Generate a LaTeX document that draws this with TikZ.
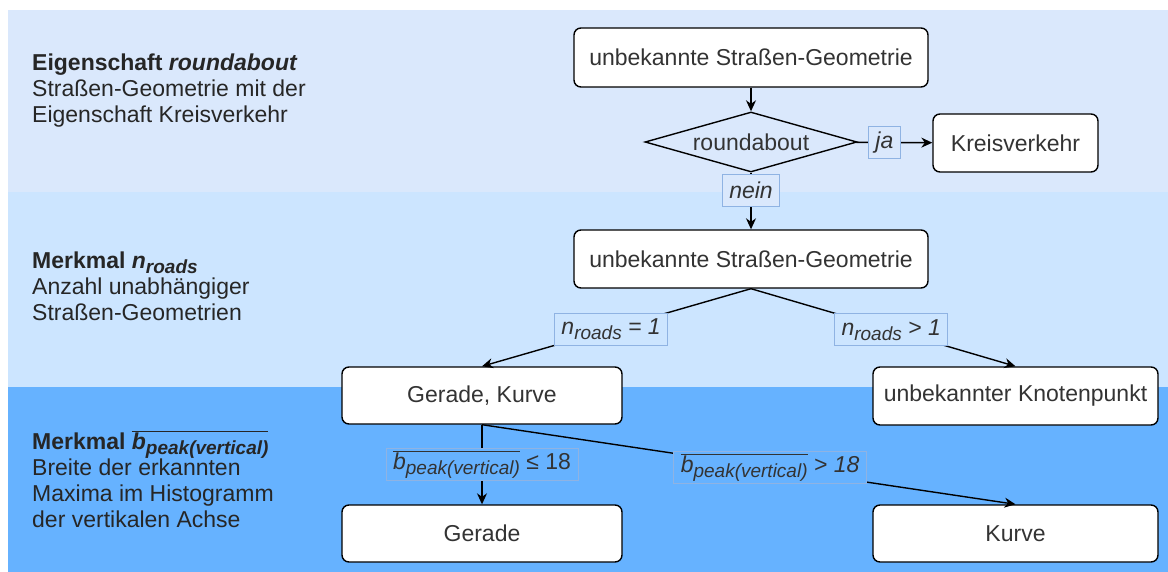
\documentclass[tikz,border=0pt]{standalone}
\usepackage{fontspec}
\setmainfont{Liberation Sans}
\usetikzlibrary{shapes.geometric,arrows.meta}

\definecolor{bandA}{HTML}{DAE8FC}
\definecolor{bandB}{HTML}{CCE5FF}
\definecolor{bandC}{HTML}{66B2FF}
\definecolor{txt}{HTML}{333333}
\definecolor{sidetxt}{HTML}{262626}
\definecolor{lblborder}{HTML}{8FB3E3}

% lowered, smaller text for subscripts
\newcommand\sbs[1]{\raisebox{-5pt}{\fontsize{19}{20}\selectfont #1}}
% overlined text
\newcommand\ovl[1]{$\overline{\hbox{#1}}$}

\tikzset{
  box/.style={draw=black, line width=1.4pt, fill=white, rounded corners=7pt,
    text=txt, font=\fontsize{23}{26}\selectfont, inner sep=0pt},
  rhomb/.style={diamond, draw=black, line width=1.4pt, text=txt,
    font=\fontsize{23}{26}\selectfont, shape aspect=3.53,
    minimum width=212pt, minimum height=60pt, inner sep=0pt},
  elabel/.style={draw=lblborder, line width=0.8pt, text=txt,
    font=\fontsize{23}{26}\selectfont\itshape, inner xsep=7pt, inner ysep=1pt,
    minimum height=32pt},
  conn/.style={draw=black, line width=1.4pt, -{Stealth[length=11pt,width=10pt]}},
  sidetext/.style={anchor=west, align=left, text=sidetxt,
    font=\fontsize{23}{26}\selectfont, inner sep=0pt}
}

\begin{document}
\begin{tikzpicture}[x=1pt,y=-1pt]
  \useasboundingbox (0,0) rectangle (1168,572);
  \fill[white] (0,0) rectangle (1168,572);

  % horizontal bands
  \fill[bandA] (8,10) rectangle (1168,192);
  \fill[bandB] (8,192) rectangle (1168,387);
  \fill[bandC] (8,387) rectangle (1168,572);

  % band descriptions
  \node[sidetext] (t1) at (32,91)
    {\textbf{Eigenschaft \textit{roundabout}}\\Straßen-Geometrie mit der\\Eigenschaft Kreisverkehr};
  \node[sidetext] (t2) at (32,286)
    {\textbf{Merkmal \textit{n}\sbs{\textit{roads}}}\\Anzahl unabhängiger\\Straßen-Geometrien};
  \node[sidetext] (t3) at (32,479)
    {\textbf{Merkmal \ovl{\textit{b}\sbs{\textit{peak(vertical)}}}}\\Breite der erkannten\\Maxima im Histogramm\\der vertikalen Achse};

  % decision nodes
  \node[box, minimum width=354pt, minimum height=59pt] (u1) at (751,57.5) {unbekannte Straßen-Geometrie};
  \node[rhomb] (rb) at (751,142) {roundabout};
  \node[box, minimum width=165pt, minimum height=58pt] (kv) at (1015.5,143) {Kreisverkehr};
  \node[box, minimum width=354pt, minimum height=58pt] (u2) at (751,259) {unbekannte Straßen-Geometrie};
  \node[box, minimum width=280pt, minimum height=57pt] (gk) at (482,395.5) {Gerade, Kurve};
  \node[box, minimum width=285pt, minimum height=58pt] (kp) at (1015.5,396) {unbekannter Knotenpunkt};
  \node[box, minimum width=280pt, minimum height=57pt] (ge) at (482,533.5) {Gerade};
  \node[box, minimum width=285pt, minimum height=57pt] (ku) at (1015.5,533.5) {Kurve};

  % connectors
  \draw[conn] (u1) -- (rb);
  \draw[conn] (rb) -- node[elabel, fill=bandA, pos=0.37] (lja) {ja} (kv);
  \draw[conn] (rb) -- node[elabel, fill=bandA, pos=0.31] (lnein) {nein} (u2);
  \draw[conn] (u2.south) -- node[elabel, fill=bandB, pos=0.52] (lone)
    {n\sbs{roads} = 1} (gk.north);
  \draw[conn] (u2.south) -- node[elabel, fill=bandB, pos=0.53] (lmany)
    {n\sbs{roads} > 1} (kp.north);
  \draw[conn] (gk.south) -- node[elabel, fill=bandC, pos=0.5] (lle)
    {\ovl{b\sbs{peak(vertical)}}\upshape{} ≤ 18} (ge.north);
  \draw[conn] (gk.south) -- node[elabel, fill=bandC, pos=0.54] (lgt)
    {\ovl{b\sbs{peak(vertical)}} > 18} (ku.north);
\end{tikzpicture}
\end{document}
